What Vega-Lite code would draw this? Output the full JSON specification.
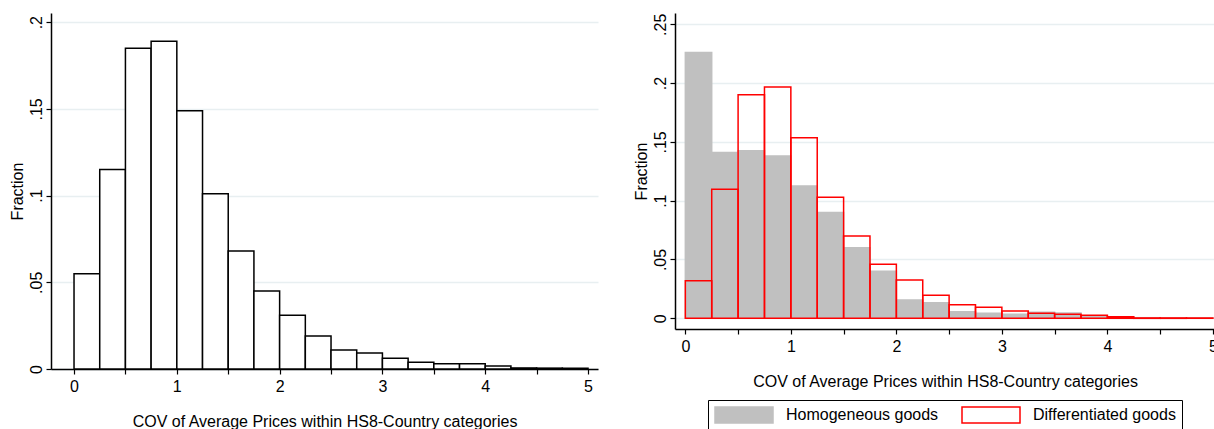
{
  "$schema": "https://vega.github.io/schema/vega-lite/v6.json",
  "background": "white",
  "padding": {"left": 9, "top": 13, "right": 0, "bottom": 0},
  "bounds": "flush",
  "spacing": 77,
  "config": {
    "font": "Liberation Sans",
    "view": {"stroke": null},
    "axis": {
      "domainColor": "black", "domainWidth": 1.5,
      "tickColor": "black", "tickWidth": 1.2, "tickSize": 5,
      "labelFont": "Liberation Sans", "labelFontSize": 16, "labelColor": "black",
      "titleFont": "Liberation Sans", "titleFontSize": 16, "titleFontWeight": "normal", "titleColor": "black",
      "gridColor": "#e8eff1", "gridWidth": 1.5,
      "labelFlush": false, "labelOverlap": false
    },
    "axisX": {
      "grid": false,
      "values": [0, 0.5, 1, 1.5, 2, 2.5, 3, 3.5, 4, 4.5, 5],
      "labelExpr": "datum.value % 1 == 0 ? format(datum.value, 'd') : ''",
      "labelAngle": 0, "labelPadding": 4, "titlePadding": 19
    },
    "axisY": {
      "grid": true,
      "labelAngle": -90, "labelAlign": "center", "labelBaseline": "bottom",
      "labelPadding": 2, "titlePadding": 3,
      "labelExpr": "datum.value == 0 ? '0' : slice(format(datum.value, '.2~f'), 1)"
    },
    "legend": {
      "orient": "none", "legendX": 657, "legendY": 387,
      "direction": "horizontal", "title": null,
      "strokeColor": "black", "strokeWidth": 1, "padding": 6,
      "symbolType": "M-1,-1H6.25V1H-1Z", "symbolSize": 256, "symbolStrokeWidth": 1.5,
      "labelFont": "Liberation Sans", "labelFontSize": 16, "labelColor": "black",
      "labelOffset": 54, "columnPadding": 20
    }
  },
  "datasets": {
    "left": [
      {"lo": 0, "hi": 0.25, "fraction": 0.055},
      {"lo": 0.25, "hi": 0.5, "fraction": 0.115},
      {"lo": 0.5, "hi": 0.75, "fraction": 0.185},
      {"lo": 0.75, "hi": 1, "fraction": 0.189},
      {"lo": 1, "hi": 1.25, "fraction": 0.149},
      {"lo": 1.25, "hi": 1.5, "fraction": 0.101},
      {"lo": 1.5, "hi": 1.75, "fraction": 0.068},
      {"lo": 1.75, "hi": 2, "fraction": 0.045},
      {"lo": 2, "hi": 2.25, "fraction": 0.031},
      {"lo": 2.25, "hi": 2.5, "fraction": 0.019},
      {"lo": 2.5, "hi": 2.75, "fraction": 0.011},
      {"lo": 2.75, "hi": 3, "fraction": 0.0092},
      {"lo": 3, "hi": 3.25, "fraction": 0.0062},
      {"lo": 3.25, "hi": 3.5, "fraction": 0.0039},
      {"lo": 3.5, "hi": 3.75, "fraction": 0.003},
      {"lo": 3.75, "hi": 4, "fraction": 0.003},
      {"lo": 4, "hi": 4.25, "fraction": 0.0017},
      {"lo": 4.25, "hi": 4.5, "fraction": 0.0006},
      {"lo": 4.5, "hi": 4.75, "fraction": 0.0005},
      {"lo": 4.75, "hi": 5, "fraction": 0.0004}
    ],
    "right": [
      {"goods": "Homogeneous goods", "lo": 0, "hi": 0.25, "fraction": 0.226},
      {"goods": "Homogeneous goods", "lo": 0.25, "hi": 0.5, "fraction": 0.141},
      {"goods": "Homogeneous goods", "lo": 0.5, "hi": 0.75, "fraction": 0.1425},
      {"goods": "Homogeneous goods", "lo": 0.75, "hi": 1, "fraction": 0.138},
      {"goods": "Homogeneous goods", "lo": 1, "hi": 1.25, "fraction": 0.1125},
      {"goods": "Homogeneous goods", "lo": 1.25, "hi": 1.5, "fraction": 0.09},
      {"goods": "Homogeneous goods", "lo": 1.5, "hi": 1.75, "fraction": 0.06},
      {"goods": "Homogeneous goods", "lo": 1.75, "hi": 2, "fraction": 0.04},
      {"goods": "Homogeneous goods", "lo": 2, "hi": 2.25, "fraction": 0.0156},
      {"goods": "Homogeneous goods", "lo": 2.25, "hi": 2.5, "fraction": 0.0133},
      {"goods": "Homogeneous goods", "lo": 2.5, "hi": 2.75, "fraction": 0.0056},
      {"goods": "Homogeneous goods", "lo": 2.75, "hi": 3, "fraction": 0.0043},
      {"goods": "Homogeneous goods", "lo": 3, "hi": 3.25, "fraction": 0.0035},
      {"goods": "Homogeneous goods", "lo": 3.25, "hi": 3.5, "fraction": 0.0051},
      {"goods": "Homogeneous goods", "lo": 3.5, "hi": 3.75, "fraction": 0.0045},
      {"goods": "Homogeneous goods", "lo": 3.75, "hi": 4, "fraction": 0.002},
      {"goods": "Homogeneous goods", "lo": 4, "hi": 4.25, "fraction": 0.001},
      {"goods": "Homogeneous goods", "lo": 4.25, "hi": 4.5, "fraction": 0.0005},
      {"goods": "Homogeneous goods", "lo": 4.5, "hi": 4.75, "fraction": 0.0003},
      {"goods": "Homogeneous goods", "lo": 4.75, "hi": 5, "fraction": 0.0002},
      {"goods": "Differentiated goods", "lo": 0, "hi": 0.25, "fraction": 0.032},
      {"goods": "Differentiated goods", "lo": 0.25, "hi": 0.5, "fraction": 0.1097},
      {"goods": "Differentiated goods", "lo": 0.5, "hi": 0.75, "fraction": 0.19},
      {"goods": "Differentiated goods", "lo": 0.75, "hi": 1, "fraction": 0.1967},
      {"goods": "Differentiated goods", "lo": 1, "hi": 1.25, "fraction": 0.1536},
      {"goods": "Differentiated goods", "lo": 1.25, "hi": 1.5, "fraction": 0.103},
      {"goods": "Differentiated goods", "lo": 1.5, "hi": 1.75, "fraction": 0.07},
      {"goods": "Differentiated goods", "lo": 1.75, "hi": 2, "fraction": 0.046},
      {"goods": "Differentiated goods", "lo": 2, "hi": 2.25, "fraction": 0.0326},
      {"goods": "Differentiated goods", "lo": 2.25, "hi": 2.5, "fraction": 0.0196},
      {"goods": "Differentiated goods", "lo": 2.5, "hi": 2.75, "fraction": 0.0116},
      {"goods": "Differentiated goods", "lo": 2.75, "hi": 3, "fraction": 0.0094},
      {"goods": "Differentiated goods", "lo": 3, "hi": 3.25, "fraction": 0.0062},
      {"goods": "Differentiated goods", "lo": 3.25, "hi": 3.5, "fraction": 0.0043},
      {"goods": "Differentiated goods", "lo": 3.5, "hi": 3.75, "fraction": 0.0034},
      {"goods": "Differentiated goods", "lo": 3.75, "hi": 4, "fraction": 0.0026},
      {"goods": "Differentiated goods", "lo": 4, "hi": 4.25, "fraction": 0.0014},
      {"goods": "Differentiated goods", "lo": 4.25, "hi": 4.5, "fraction": 0.0003},
      {"goods": "Differentiated goods", "lo": 4.5, "hi": 4.75, "fraction": 0.0003},
      {"goods": "Differentiated goods", "lo": 4.75, "hi": 5, "fraction": 0.0003}
    ]
  },
  "hconcat": [
    {
      "width": 547,
      "height": 356,
      "data": {"name": "left"},
      "mark": {"type": "bar", "fill": "white", "stroke": "black", "strokeWidth": 1.5},
      "encoding": {
        "x": {"field": "lo", "type": "quantitative",
              "scale": {"domain": [-0.224, 5.097], "nice": false, "zero": false},
              "title": "COV of Average Prices within HS8-Country categories"},
        "x2": {"field": "hi"},
        "y": {"field": "fraction", "type": "quantitative",
              "scale": {"domain": [0, 0.2053], "nice": false, "zero": false},
              "axis": {"values": [0, 0.05, 0.1, 0.15, 0.2]},
              "title": "Fraction"},
        "y2": {"datum": 0}
      }
    },
    {
      "width": 540,
      "height": 316,
      "data": {"name": "right"},
      "mark": {"type": "bar", "strokeWidth": 1.5},
      "encoding": {
        "x": {"field": "lo", "type": "quantitative",
              "scale": {"domain": [-0.098, 5.02], "nice": false, "zero": false},
              "title": "COV of Average Prices within HS8-Country categories"},
        "x2": {"field": "hi"},
        "y": {"field": "fraction", "type": "quantitative",
              "scale": {"domain": [-0.0091, 0.2596], "nice": false, "zero": false},
              "axis": {"values": [0, 0.05, 0.1, 0.15, 0.2, 0.25]},
              "title": "Fraction"},
        "y2": {"datum": 0},
        "fill": {"field": "goods", "type": "nominal",
                 "scale": {"domain": ["Homogeneous goods", "Differentiated goods"], "range": ["#c0c0c0", "transparent"]}},
        "stroke": {"field": "goods", "type": "nominal",
                   "scale": {"domain": ["Homogeneous goods", "Differentiated goods"], "range": ["#c0c0c0", "#ff0000"]}}
      }
    }
  ]
}
